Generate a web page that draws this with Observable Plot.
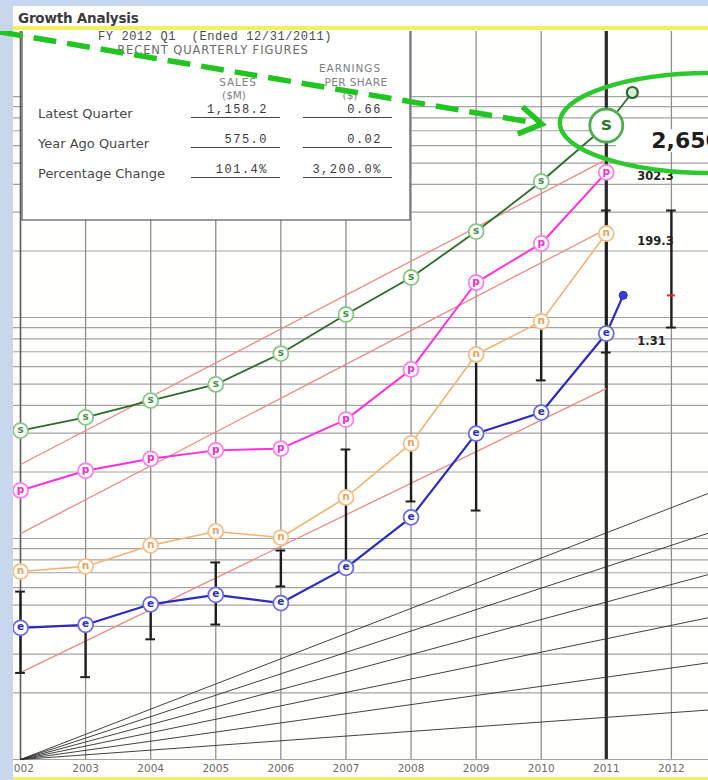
<!DOCTYPE html>
<html>
<head>
<meta charset="utf-8">
<script src="https://cdn.jsdelivr.net/npm/d3@7"></script>
<script src="https://cdn.jsdelivr.net/npm/@observablehq/plot@0.6"></script>
<style>
  html, body { margin: 0; padding: 0; width: 708px; height: 780px; overflow: hidden; background: #c7d7ee; }
  #panel { position: absolute; left: 13px; top: 6px; width: 695px; height: 774px; background: #fffffd; }
  #title { position: absolute; left: 18px; top: 10px; font: bold 13.5px "DejaVu Sans", sans-serif; color: #3b3b3b; letter-spacing: -0.2px; }
  .band { position: absolute; left: 13px; width: 695px; background: #f3ef62; }
  #chart { position: absolute; left: 0; top: 31px; }
</style>
</head>
<body>
<div id="panel"></div>
<div id="title">Growth Analysis</div>
<div class="band" style="top:26px;height:4px"></div>
<div class="band" style="top:777px;height:3px"></div>
<div id="chart"></div>
<script>
// Fiscal-year history (sales, pretax profit, net income in $M; EPS and price in $)
const years = [2002, 2003, 2004, 2005, 2006, 2007, 2008, 2009, 2010, 2011];
const sales = [110.4, 126.6, 150.9, 178.5, 246.3, 370.0, 543.9, 878.0, 1479.0, 2650.9];
const pretax = [11.0, 13.5, 15.3, 16.7, 17.0, 23.0, 38.8, 96.0, 144.2, 302.3];
const netIncome = [5.89, 6.21, 7.73, 8.94, 8.39, 12.74, 22.36, 56.5, 79.7, 199.3];
const eps = [0.061, 0.063, 0.078, 0.086, 0.079, 0.114, 0.193, 0.462, 0.575, 1.31];
const salesLatest = {year: 2011.4, value: 3740};
const epsLatest = {year: 2011.26, value: 1.95};

// Yearly price range (high / low) and the most recent price
const priceYears = [2002, 2003, 2004, 2005, 2006, 2007, 2008, 2009, 2010, 2011, 2012];
const priceHigh = [2.17, 1.57, 1.84, 2.94, 3.33, 9.54, 10.05, 24.1, 35.8, 115.1, 115.1];
const priceLow = [0.93, 0.89, 1.32, 1.54, 2.29, 2.70, 5.55, 5.05, 19.6, 26.2, 34.0];
const priceRecent = 47.5;

// Trend lines: value at 2002 and at 2011
const trendSales = [77.5, 1859];
const trendPretax = [7.02, 167.7];
const trendEps = [0.0383, 0.738];

// Guide lines for constant annual growth (%)
const growthRates = [5, 10, 15, 20, 25, 30];

// Recent quarterly figures
const periodLabel = "FY 2012 Q1  (Ended 12/31/2011)";
const quarterRows = ["Latest Quarter", "Year Ago Quarter", "Percentage Change"];
const quarterSales = [1158.2, 575.0];
const quarterEps = [0.66, 0.02];

// Axis ticks
const yearTicks = [2002, 2003, 2004, 2005, 2006, 2007, 2008, 2009, 2010, 2011, 2012];
const gridValues = [1, 2, 3, 4, 5, 6, 7, 8, 9, 10, 20, 30, 40, 50, 60, 70, 80, 90,
  100, 200, 300, 400, 500, 600, 700, 800, 900, 1000];

// Multiplier that places each series on the shared ratio-scale paper
const paperScale = {sales: 0.2789, pretax: 1.5, net: 1.204, eps: 64.6, price: 2.65};

const styles = {
  sales: {letter: "s", line: "#2e6a2e", width: 1.8, ring: "#86c986", ink: "#3f8f3f"},
  pretax: {letter: "p", line: "#ff2ee0", width: 2, ring: "#ff7ff0", ink: "#f02cd2"},
  net: {letter: "n", line: "#f2b474", width: 1.6, ring: "#f5c088", ink: "#e9a45c"},
  eps: {letter: "e", line: "#2b2bbd", width: 2.2, ring: "#6b6be6", ink: "#2f2fb8"}
};
const seriesValues = {sales, pretax, net: netIncome, eps};

const pts = key => years.map((year, i) => ({key, year, g: seriesValues[key][i] * paperScale[key]}));
const xEnd = 2012.57;

const marks = [];

// ratio grid
marks.push(Plot.ruleY(gridValues, {stroke: "#a3a3a3", strokeWidth: 1.2}));
marks.push(Plot.ruleX(yearTicks.filter(d => d !== 2002 && d !== 2011), {stroke: "#8e8e8e", strokeWidth: 1.3}));
marks.push(Plot.ruleX([2002], {stroke: "#5a5a5a", strokeWidth: 1.6}));
marks.push(Plot.ruleX([2011], {stroke: "#2a2a2a", strokeWidth: 3.2}));
marks.push(Plot.text(yearTicks, {x: d => d, frameAnchor: "bottom", dy: 12, text: d => String(d),
  fontFamily: "DejaVu Sans", fontSize: 10.5, fill: "#6a6a6a"}));

// growth-rate fan
marks.push(Plot.link(growthRates, {
  x1: () => 2002, y1: () => 1, x2: () => xEnd, y2: r => Math.pow(1 + r / 100, xEnd - 2002),
  stroke: "#2b2b2b", strokeWidth: 0.9
}));

// trend lines
const trends = [
  {key: "sales", v: trendSales},
  {key: "pretax", v: trendPretax},
  {key: "eps", v: trendEps}
];
marks.push(Plot.link(trends, {
  x1: () => 2002, y1: d => d.v[0] * paperScale[d.key],
  x2: () => 2011, y2: d => d.v[1] * paperScale[d.key],
  stroke: "#ee8a86", strokeWidth: 1.3
}));

// price ranges
const prices = priceYears.map((year, i) => ({year, hi: priceHigh[i] * paperScale.price, lo: priceLow[i] * paperScale.price}));
marks.push(Plot.ruleX(prices, {x: "year", y1: "lo", y2: "hi", stroke: "#1e1e1e", strokeWidth: 2.4}));
marks.push(Plot.ruleY(prices, {y: "hi", x1: d => d.year - 0.075, x2: d => d.year + 0.075, stroke: "#1e1e1e", strokeWidth: 2}));
marks.push(Plot.ruleY(prices, {y: "lo", x1: d => d.year - 0.075, x2: d => d.year + 0.075, stroke: "#1e1e1e", strokeWidth: 2}));
marks.push(Plot.ruleY([{year: 2012, p: priceRecent * paperScale.price}], {
  y: "p", x1: d => d.year - 0.06, x2: d => d.year + 0.06, stroke: "#e02525", strokeWidth: 2
}));

// series lines
for (const key of ["net", "pretax", "sales", "eps"]) {
  const s = styles[key];
  let data = pts(key);
  if (key === "sales") data = data.concat([{key, year: salesLatest.year, g: salesLatest.value * paperScale.sales}]);
  if (key === "eps") data = data.concat([{key, year: epsLatest.year, g: epsLatest.value * paperScale.eps}]);
  marks.push(Plot.line(data, {x: "year", y: "g", stroke: s.line, strokeWidth: s.width}));
}

// lettered markers
for (const key of ["net", "pretax", "sales", "eps"]) {
  const s = styles[key];
  const data = pts(key).filter(d => !(key === "sales" && d.year === 2011));
  marks.push(Plot.dot(data, {x: "year", y: "g", r: 7.5, fill: "white", stroke: s.ring, strokeWidth: 1.8}));
  marks.push(Plot.text(data, {x: "year", y: "g", text: () => s.letter, fill: s.ink, fontSize: 10.5,
    fontWeight: "bold", fontFamily: "DejaVu Sans", dy: -1}));
}

// quarterly figures inset
const fmt1 = d3.format(",.1f"), fmt2 = d3.format(",.2f");
marks.push(() => {
  const g = d3.create("svg:g");
  g.append("rect").attr("x", 22).attr("y", -1).attr("width", 388).attr("height", 190)
    .attr("fill", "#ffffff").attr("stroke", "#555").attr("stroke-width", 1.2);
  const txt = (s, x, y, anchor, font, size, fill, ls) => g.append("text")
    .attr("x", x).attr("y", y).attr("text-anchor", anchor).attr("dominant-baseline", "central")
    .attr("fill", fill).style("font-family", font).style("font-size", size + "px")
    .style("letter-spacing", (ls || 0) + "px").style("white-space", "pre").text(s);
  txt(periodLabel, 98, 6, "start", "Liberation Mono", 12, "#4a4a4a", 0.6);
  txt("RECENT QUARTERLY FIGURES", 213, 19, "middle", "DejaVu Sans", 11.5, "#6a6a6a", 0.9);
  txt("EARNINGS", 350, 37, "middle", "DejaVu Sans", 10.5, "#808080", 0.9);
  txt("PER SHARE", 356, 51, "middle", "DejaVu Sans", 10.5, "#808080", 0.4);
  txt("($)", 350, 64, "middle", "DejaVu Sans", 10.5, "#808080", 0);
  txt("SALES", 238, 51, "middle", "DejaVu Sans", 10.5, "#808080", 0.9);
  txt("($M)", 234, 64, "middle", "DejaVu Sans", 10.5, "#808080", 0);
  const salesCol = [fmt1(quarterSales[0]), fmt1(quarterSales[1]), fmt1((quarterSales[0] / quarterSales[1] - 1) * 100) + "%"];
  const epsCol = [fmt2(quarterEps[0]), fmt2(quarterEps[1]), fmt1((quarterEps[0] / quarterEps[1] - 1) * 100) + "%"];
  quarterRows.forEach((label, i) => {
    const yRow = 82 + i * 30;
    txt(label, 38, yRow, "start", "DejaVu Sans", 13, "#474747", 0);
    txt(salesCol[i], 268, yRow - 3, "end", "Liberation Mono", 12, "#3a3a3a", 1.5);
    txt(epsCol[i], 382, yRow - 3, "end", "Liberation Mono", 12, "#3a3a3a", 1.5);
    g.append("line").attr("x1", 191).attr("x2", 280).attr("y1", yRow + 4.5).attr("y2", yRow + 4.5).attr("stroke", "#444").attr("stroke-width", 1.2);
    g.append("line").attr("x1", 303).attr("x2", 392).attr("y1", yRow + 4.5).attr("y2", yRow + 4.5).attr("stroke", "#444").attr("stroke-width", 1.2);
  });
  return g.node();
});

// latest-year values beside the 2011 markers
const valueLabels = [
  {key: "pretax", value: pretax[9], f: fmt1, dy: 4},
  {key: "net", value: netIncome[9], f: fmt1, dy: 8},
  {key: "eps", value: eps[9], f: fmt2, dy: 8}
];
for (const d of valueLabels) {
  marks.push(Plot.text([d], {x: () => 2011, y: d => d.value * paperScale[d.key], text: d => d.f(d.value),
    textAnchor: "start", dx: 31, dy: d.dy, fontFamily: "DejaVu Sans", fontSize: 11.5, fontWeight: "bold", fill: "#222"}));
}

// callout around the latest sales figure
const salesNow = sales[9] * paperScale.sales;
marks.push((index, scales) => {
  const px = scales.x(2011), py = scales.y(salesNow);
  const g = d3.create("svg:g");
  g.append("rect").attr("x", px + 10).attr("y", py + 4).attr("width", 120).attr("height", 23).attr("fill", "#fff");
  g.append("ellipse").attr("cx", px + 106).attr("cy", py - 2).attr("rx", 152).attr("ry", 50)
    .attr("fill", "none").attr("stroke", "#2ec82e").attr("stroke-width", 4.5);
  return g.node();
});
marks.push(Plot.text([{g: salesNow}], {x: () => 2011, y: "g", text: () => fmt1(sales[9]), textAnchor: "start",
  dx: 45, dy: 15, fontFamily: "DejaVu Sans", fontSize: 22, fontWeight: "bold", fill: "#1f1f1f"}));

// enlarged 2011 sales marker and latest points
marks.push(Plot.dot([{g: salesNow}], {x: () => 2011, y: "g", r: 16.5, fill: "white", stroke: "#4fae4f", strokeWidth: 2.8}));
marks.push(Plot.text([{g: salesNow}], {x: () => 2011, y: "g", text: () => "s", fill: "#2d7a2d",
  fontSize: 18, fontWeight: "bold", fontFamily: "DejaVu Sans", dy: -1}));
marks.push(Plot.dot([salesLatest], {x: "year", y: d => d.value * paperScale.sales, r: 5.5, fill: "#d6efd6", stroke: "#2e6a2e", strokeWidth: 2.2}));
marks.push(Plot.dot([epsLatest], {x: "year", y: d => d.value * paperScale.eps, r: 4, fill: "#3a3ad8", stroke: "#2b2bbd", strokeWidth: 1}));

// page margin strip and pointer arrow to the callout
marks.push((index, scales) => {
  const px = scales.x(2011), py = scales.y(salesNow);
  const g = d3.create("svg:g");
  g.append("rect").attr("x", 0).attr("y", 0).attr("width", 13).attr("height", 760).attr("fill", "#c7d7ee");
  const tipX = px + 106 - 152 - 18, tipY = py - 1;
  const x0 = 0, y0 = 1;
  const a = Math.atan2(tipY - y0, tipX - x0), L = 26, phi = 32 * Math.PI / 180;
  g.append("line").attr("x1", x0).attr("y1", y0).attr("x2", tipX - 3 * Math.cos(a)).attr("y2", tipY - 3 * Math.sin(a))
    .attr("stroke", "#22c422").attr("stroke-width", 5.5).attr("stroke-dasharray", "23 11");
  const p1 = [tipX - L * Math.cos(a + phi), tipY - L * Math.sin(a + phi)];
  const p2 = [tipX - L * Math.cos(a - phi), tipY - L * Math.sin(a - phi)];
  g.append("path").attr("d", `M${p1}L${tipX},${tipY}L${p2}`).attr("fill", "none")
    .attr("stroke", "#22c422").attr("stroke-width", 5.5).attr("stroke-linejoin", "miter");
  return g.node();
});

const chart = Plot.plot({
  width: 708,
  height: 747,
  marginLeft: 13,
  marginRight: 0,
  marginTop: 0,
  marginBottom: 19,
  style: {background: "transparent", overflow: "hidden"},
  x: {domain: [2002, xEnd], range: [20, 708], axis: null},
  y: {type: "log", domain: [1, 2000], range: [728, -1.5], axis: null},
  marks
});
document.getElementById("chart").append(chart);
</script>
</body>
</html>
